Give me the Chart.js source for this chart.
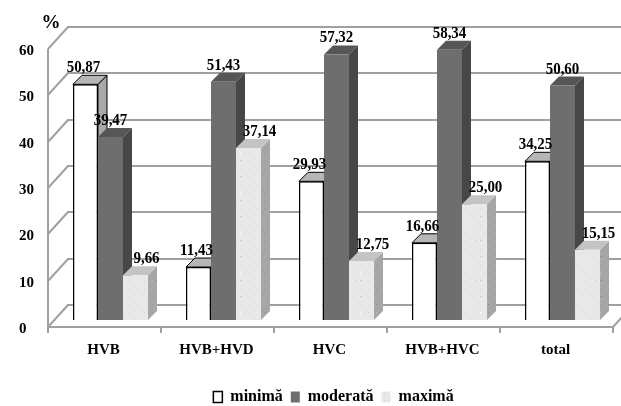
<!DOCTYPE html>
<html>
<head>
<meta charset="utf-8">
<script src="https://cdn.jsdelivr.net/npm/chart.js@4.4.1/dist/chart.umd.min.js"></script>
<style>
  html, body { margin: 0; padding: 0; background: #fff; }
  #chart { display: block; }
</style>
</head>
<body>
<canvas id="chart" width="621" height="406"></canvas>
<script>
// severity distribution per hepatitis group, %
const categories = ['HVB', 'HVB+HVD', 'HVC', 'HVB+HVC', 'total'];
const minima = [50.87, 11.43, 29.93, 16.66, 34.25];
const moderata = [39.47, 51.43, 57.32, 58.34, 50.60];
const maxima = [9.66, 37.14, 12.75, 25.00, 15.15];
const seriesNames = ['minimă', 'moderată', 'maximă'];
const yMax = 60;
const yStep = 10;

const FONT = "'Liberation Serif', 'Times New Roman', serif";
const DEPTH = 9;          // bar depth, drawn up and to the right
const FRONT = [-6, 7];    // front edge of floor / axis, relative to bar plane
const BACK = [14, -15];   // back wall, relative to bar plane
const WALL = '#a0a0a0';

// speckled grey fill for the "maximă" bars
function stipple(base, dark, light) {
  const c = document.createElement('canvas');
  c.width = c.height = 40;
  const g = c.getContext('2d');
  g.fillStyle = base;
  g.fillRect(0, 0, 40, 40);
  let s = 7;
  const next = () => (s = (s * 1103515245 + 12345) & 0x7fffffff);
  for (let i = 0; i < 320; i++) {
    const px = next() % 40, py = next() % 40;
    g.fillStyle = (next() % 3 === 0) ? light : dark;
    g.fillRect(px, py, 1, 1);
  }
  return g.createPattern(c, 'repeat');
}

const lightFront = stipple('#e8e8e8', '#cfcfcf', '#f8f8f8');
const lightSide = stipple('#a6a6a6', '#8f8f8f', '#b8b8b8');

const faces = [
  { side: '#a9a9a9', top: '#b6b6b6', edge: '#000' },
  { side: '#474747', top: '#565656', edge: null },
  { side: lightSide, top: '#c4c4c4', edge: null }
];
const labelShift = [-2, 0, 11];

function poly(ctx, pts, fill, edge) {
  ctx.beginPath();
  ctx.moveTo(pts[0][0], pts[0][1]);
  for (let k = 1; k < pts.length; k++) ctx.lineTo(pts[k][0], pts[k][1]);
  ctx.closePath();
  ctx.fillStyle = fill;
  ctx.fill();
  if (edge) {
    ctx.strokeStyle = edge;
    ctx.lineWidth = 1;
    ctx.stroke();
  }
}

// slanted wall strokes
function slant(ctx, x1, y1, x2, y2) {
  ctx.beginPath();
  ctx.moveTo(x1, y1);
  ctx.lineTo(x2, y2);
  ctx.strokeStyle = WALL;
  ctx.lineWidth = 2;
  ctx.stroke();
}

// straight wall lines as 2px bands
function hband(ctx, x1, x2, yy) { ctx.fillStyle = WALL; ctx.fillRect(x1, yy - 1, x2 - x1, 2); }
function vband(ctx, xx, y1, y2) { ctx.fillStyle = WALL; ctx.fillRect(xx - 1, y1, 2, y2 - y1); }

const depthPlugin = {
  id: 'depth',
  beforeDatasetsDraw(chart) {
    const { ctx, chartArea: a, scales: { y } } = chart;
    ctx.save();
    const fx = a.left + FRONT[0];

    // back wall grid with the diagonal side-wall strokes
    for (let v = 0; v <= yMax; v += yStep) {
      const py = Math.round(y.getPixelForValue(v));
      slant(ctx, fx, py + FRONT[1], a.left + BACK[0], py + BACK[1]);
      hband(ctx, a.left + BACK[0] - 1, a.right + BACK[0], py + BACK[1]);
    }

    // front vertical axis
    const y0 = Math.round(y.getPixelForValue(0));
    const yTop = Math.round(y.getPixelForValue(yMax));
    vband(ctx, fx, yTop + FRONT[1], y0 + FRONT[1]);

    // floor front edge and right corner
    hband(ctx, fx - 1, a.right + FRONT[0], y0 + FRONT[1]);
    slant(ctx, a.right + FRONT[0], y0 + FRONT[1], a.right + BACK[0], y0 + BACK[1]);

    // category separators on the floor
    const step = (a.right - a.left) / categories.length;
    for (let k = 0; k <= categories.length; k++) {
      vband(ctx, Math.round(fx + k * step), y0 + FRONT[1], y0 + FRONT[1] + 6);
    }

    // bar sides and tops
    chart.data.datasets.forEach((ds, i) => {
      const f = faces[i];
      chart.getDatasetMeta(i).data.forEach(bar => {
        const l = bar.x - bar.width / 2, r = bar.x + bar.width / 2;
        const t = bar.y, b = bar.base;
        poly(ctx, [[r, t], [r + DEPTH, t - DEPTH], [r + DEPTH, b - DEPTH], [r, b]], f.side, f.edge);
        poly(ctx, [[l, t], [r, t], [r + DEPTH, t - DEPTH], [l + DEPTH, t - DEPTH]], f.top, f.edge);
      });
    });
    ctx.restore();
  },
  afterDatasetsDraw(chart) {
    const { ctx } = chart;
    ctx.save();
    ctx.fillStyle = '#000';
    ctx.textAlign = 'center';
    ctx.textBaseline = 'alphabetic';
    ctx.font = 'bold 17px ' + FONT;
    chart.data.datasets.forEach((ds, i) => {
      chart.getDatasetMeta(i).data.forEach((bar, j) => {
        const txt = ds.data[j].toFixed(2).replace('.', ',');
        ctx.save();
        ctx.translate(bar.x + labelShift[i], bar.y - DEPTH - 3);
        ctx.scale(0.88, 1);
        ctx.fillText(txt, 0, 0);
        ctx.restore();
      });
    });
    // unit mark above the value axis
    ctx.font = 'bold 19px ' + FONT;
    ctx.fillText('%', 51, 28);
    ctx.restore();
  }
};

new Chart(document.getElementById('chart'), {
  type: 'bar',
  data: {
    labels: categories,
    datasets: [
      { label: seriesNames[0], data: minima, backgroundColor: '#ffffff', borderColor: '#000000', borderWidth: 1.5 },
      { label: seriesNames[1], data: moderata, backgroundColor: '#6e6e6e', borderWidth: 0 },
      { label: seriesNames[2], data: maxima, backgroundColor: lightFront, borderWidth: 0 }
    ]
  },
  options: {
    responsive: false,
    animation: false,
    devicePixelRatio: 1,
    layout: { padding: { left: 48, right: 2, top: 42, bottom: -9 } },
    datasets: { bar: { categoryPercentage: 0.664, barPercentage: 1 } },
    scales: {
      x: {
        grid: { display: false, drawTicks: false },
        border: { display: false },
        afterFit: s => { s.height = 61; },
        ticks: {
          labelOffset: -7, padding: 21, maxRotation: 0, autoSkip: false,
          color: '#000', font: { family: FONT, size: 15, weight: 'bold' }
        }
      },
      y: {
        min: 0, max: yMax,
        grid: { display: false, drawTicks: false },
        border: { display: false },
        afterFit: s => { s.width = 6; },
        ticks: {
          // mirrored so the labels are not clipped to the narrow axis box
          mirror: true, stepSize: yStep, labelOffset: 9, padding: -35,
          color: '#000', font: { family: FONT, size: 15, weight: 'bold' }
        }
      }
    },
    plugins: {
      tooltip: { enabled: false },
      legend: {
        position: 'bottom',
        labels: {
          boxWidth: 9, boxHeight: 11, padding: 8, color: '#000',
          font: { family: FONT, size: 16, weight: 'bold' }
        }
      }
    }
  },
  plugins: [depthPlugin]
});
</script>
</body>
</html>
